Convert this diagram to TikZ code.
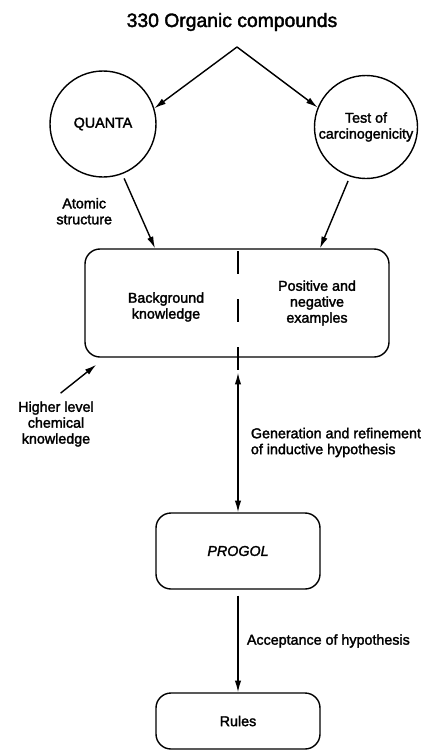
\documentclass[tikz,border=0pt]{standalone}
\usepackage{fontspec}
\setmainfont{Liberation Sans}[FakeBold=2]
\usetikzlibrary{positioning,calc,arrows.meta}

\begin{document}
\begin{tikzpicture}[x=0.03cm,y=-0.03cm,line width=1.2pt,
  >={Latex[length=10pt,width=5.5pt]},
  txt/.style={font=\fontsize{12.2}{13.6}\selectfont,align=center},
  roundnode/.style={draw,circle,minimum size=#1,inner sep=0pt},
  boxnode/.style={draw,rounded corners=0.45cm,minimum width=4.92cm,minimum height=#1,txt}]
\useasboundingbox (0,0) rectangle (422,752);
\node[font=\fontsize{16.5}{18}\selectfont] (title) at (232,22) {330 Organic compounds};
\coordinate (fork) at (237,47);
\node[roundnode=3.18cm,label={[txt]center:QUANTA}] (quanta) at (103,124) {};
\node[roundnode=3.09cm,label={[txt]center:Test of\\carcinogenicity}] (test) at (366,127) {};
\node[draw,rounded corners=0.45cm,minimum width=9.12cm,minimum height=3.24cm] (box) at (237,303) {};
\node[txt] (bk) at (166,307) {Background\\knowledge};
\node[txt] (ex) at (317,303) {Positive and\\negative\\examples};
\node[txt] (hlk) at (56,424) {Higher level\\chemical\\knowledge};
\node[boxnode=2.28cm] (progol) at (238,551) {\itshape PROGOL};
\node[boxnode=1.68cm] (rules) at (238,721) {Rules};
\draw[->] (fork)--(quanta.17);
\draw[->] (fork)--(test.158);
\draw[->,shorten <=4pt] (quanta.-69)--($(box.north)+(-82,0)$)
  node[txt,midway,left=0.66cm] {Atomic\\structure};
\draw[->,shorten <=4pt] (test.-108)--($(box.north)+(83,0)$);
\draw[dash pattern=on 19.6pt off 21.3pt] ($(box.north)+(1,3)$)--($(box.south)+(1,13)$);
\draw[->,shorten <=5pt] (hlk.north)--($(box.south west)+(12,7)$);
\draw[<->] ($(box.south)+(1,15)$)--(progol.north)
  node[txt,midway,right=0.25cm,align=left] {Generation and refinement\\of inductive hypothesis};
\draw[->,shorten <=5pt] (progol.south)--(rules.north)
  node[txt,midway,right=0.13cm] {Acceptance of hypothesis};
\end{tikzpicture}
\end{document}
